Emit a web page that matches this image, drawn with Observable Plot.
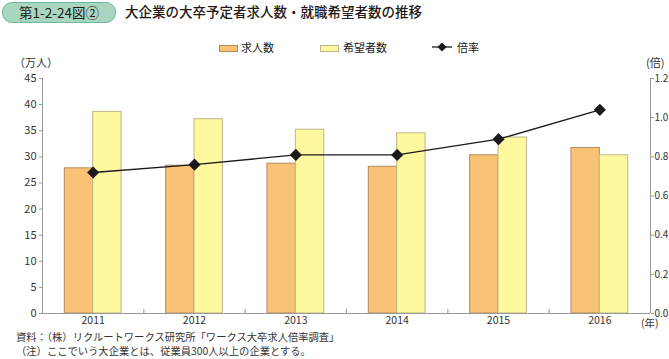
<!DOCTYPE html>
<html><head><meta charset="utf-8">
<script src="https://cdn.jsdelivr.net/npm/d3@7"></script>
<script src="https://cdn.jsdelivr.net/npm/@observablehq/plot@0.6"></script>
<style>
body{margin:0;background:#fff;font-family:"Noto Sans CJK JP",sans-serif;color:#231815;}
#wrap{position:relative;width:669px;height:359px;overflow:hidden;}
.abs{position:absolute;white-space:nowrap;}
#pill{left:2px;top:2px;width:112px;height:19px;border:1px solid #6db89b;background:#a8d6c1;border-radius:10px;font-size:13.5px;line-height:19px;text-align:center;}
#title{left:125px;top:2px;font-size:13.5px;line-height:19px;font-weight:500;}
.lg{font-size:11px;line-height:14px;top:40px;}
.sw{position:absolute;top:45px;width:17px;height:5px;}
.unit{font-size:11px;line-height:12px;top:56px;color:#333;}
.foot{font-size:10.3px;line-height:14px;left:16px;color:#333;}
svg text{font-family:"Noto Sans CJK JP",sans-serif;}
.ry text{font-size:10px;}
.ax text{font-size:10.5px;}
</style></head>
<body><div id="wrap"></div>
<script>
const years = [2011, 2012, 2013, 2014, 2015, 2016];
const jobOffers = [27.8, 28.3, 28.7, 28.1, 30.3, 31.7];   // 求人数 (万人)
const applicants = [38.6, 37.2, 35.2, 34.5, 33.7, 30.3];  // 希望者数 (万人)
const ratio = [0.72, 0.76, 0.81, 0.81, 0.89, 1.04];       // 倍率
const leftTicks = [0, 5, 10, 15, 20, 25, 30, 35, 40, 45];
const rightTicks = [0, 0.2, 0.4, 0.6, 0.8, 1.0, 1.2];

const k = 45 / 1.2;
const bw = 0.28;
const bars = years.flatMap((y, i) => [
  {year: y, s: "求人数", x1: y - bw, x2: y, v: jobOffers[i]},
  {year: y, s: "希望者数", x1: y, x2: y + bw, v: applicants[i]}
]);
const line = years.map((y, i) => ({year: y, r: ratio[i] * k}));
const bounds = years.slice(0, -1).map(y => y + 0.5);

const chart = Plot.plot({
  width: 669, height: 359,
  marginTop: 78, marginBottom: 46, marginLeft: 42, marginRight: 19,
  style: {fontSize: "11px", color: "#333", background: "transparent"},
  x: {type: "linear", domain: [2010.5, 2016.5]},
  y: {domain: [0, 45]},
  color: {domain: ["求人数", "希望者数"], range: ["#f9c275", "#fef89e"]},
  marks: [
    Plot.rectY(bars, {x1: "x1", x2: "x2", y: "v", fill: "s", stroke: d => d.s === "求人数" ? "#b08d5e" : "#bdb68a", strokeWidth: 1}),
    Plot.ruleY([0], {stroke: "#999"}),
    Plot.ruleX([2010.5, 2016.5], {y1: 0, y2: 45, stroke: "#999"}),
    Plot.ruleX(bounds, {y1: 0, y2: 0.8, stroke: "#999"}),
    Plot.axisY({anchor: "left", ticks: leftTicks, tickSize: 3, tickPadding: 3, stroke: "#999", label: null, fill: "#333"}),
    Plot.axisY({anchor: "right", ticks: rightTicks.map(t => t * k), tickFormat: (d) => (d / k).toFixed(1), tickSize: 3, tickPadding: 1, stroke: "#999", label: null, fill: "#333", className: "ry"}),
    Plot.axisX({ticks: years, tickFormat: d => String(d), tickSize: 0, tickPadding: 3, label: null, fill: "#333", className: "ax"}),
    Plot.line(line, {x: "year", y: "r", stroke: "#1a1a1a", strokeWidth: 1.3}),
    Plot.dot(line, {x: "year", y: "r", symbol: "diamond2", r: 5.5, fill: "#1a1a1a", stroke: "none"})
  ]
});
const wrap = document.getElementById("wrap");
chart.style.position = "absolute"; chart.style.left = "0"; chart.style.top = "0";
wrap.appendChild(chart);
wrap.insertAdjacentHTML("beforeend", `
<div class="abs" id="pill">第1-2-24図②</div>
<div class="abs" id="title">大企業の大卒予定者求人数・就職希望者数の推移</div>
<div class="sw" style="left:219px;background:#f9c275;border:1px solid #b08d5e;"></div>
<div class="abs lg" style="left:241px;">求人数</div>
<div class="sw" style="left:320px;background:#fef89e;border:1px solid #bdb68a;"></div>
<div class="abs lg" style="left:343px;">希望者数</div>
<svg class="abs" style="left:431px;top:41px;" width="22" height="12"><line x1="1" y1="6" x2="21" y2="6" stroke="#1a1a1a" stroke-width="1.3"/><path d="M11 1.5 L15.5 6 L11 10.5 L6.5 6Z" fill="#1a1a1a"/></svg>
<div class="abs lg" style="left:457px;">倍率</div>
<div class="abs unit" style="left:14px;">（万人）</div>
<div class="abs unit" style="left:646px;">(倍)</div>
<div class="abs" style="left:641px;top:316px;font-size:10.5px;line-height:13px;color:#333;">(年)</div>
<div class="abs foot" style="top:329.5px;">資料：（株）リクルートワークス研究所「ワークス大卒求人倍率調査」</div>
<div class="abs foot" style="top:344px;">（注）ここでいう大企業とは、従業員300人以上の企業とする。</div>
`);
</script></body></html>
